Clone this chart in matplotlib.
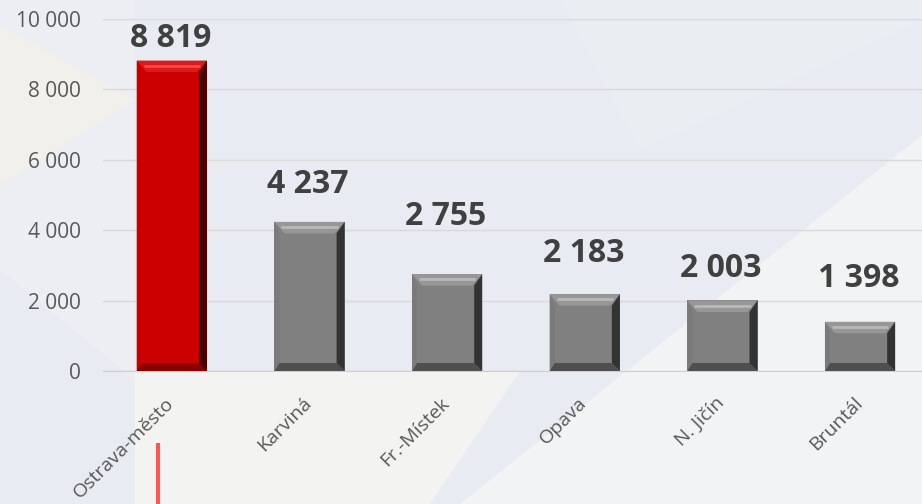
import matplotlib
matplotlib.use("Agg")
import matplotlib.pyplot as plt
from matplotlib.patches import Polygon
from matplotlib.ticker import FuncFormatter
from matplotlib.transforms import ScaledTranslation

plt.rcParams['font.family'] = ['Open Sans', 'DejaVu Sans']

# --- data ---
districts = ["Ostrava-město", "Karviná", "Fr.-Místek", "Opava", "N. Jičín", "Bruntál"]
values = [8819, 4237, 2755, 2183, 2003, 1398]
highlight = [True, False, False, False, False, False]

# labels were placed by hand in the original, gap above bar in points
label_gap = [10, 21, 35, 23, 17, 25]

W, H = 922, 504

def fmt(v, pos=None):
    return f"{v:,.0f}".replace(",", " ")

fig = plt.figure(figsize=(W / 100, H / 100), dpi=100)
fig.patch.set_facecolor('#e8ebf1')

# faint decorative background (pixel coords, top-left origin)
bg = fig.add_axes([0, 0, 1, 1], zorder=0)
bg.set_xlim(0, W)
bg.set_ylim(H, 0)
bg.axis('off')
shapes = [
    ([(0, 0), (135, 0), (135, 380), (0, 270)], '#eceef3'),
    ([(0, 25), (135, 100), (0, 185)], '#f1f0ea'),
    ([(135, 371), (135, 504), (430, 504), (520, 371)], '#f3f3f1'),
    ([(460, 504), (922, 504), (922, 135)], '#f2f3f4'),
    ([(560, 0), (922, 0), (922, 20), (640, 150)], '#eaedf2'),
]
for pts, c in shapes:
    bg.add_patch(Polygon(pts, closed=True, facecolor=c, edgecolor='none'))

# accent line at bottom
bg.plot([158, 158], [443, H], color='#f05a5a', lw=3, solid_capstyle='butt')

ax = fig.add_axes([103 / W, 1 - 371 / H, (W - 103) / W, 352 / H], zorder=1)
ax.patch.set_alpha(0)
x = list(range(len(districts)))
width = 0.51
colors = ['#cc0000' if h else '#808080' for h in highlight]
bars = ax.bar(x, values, width=width, color=colors, zorder=2)

ax.set_xlim(-0.5, 5.45)
ax.set_ylim(0, 10000)

# bevel effect, ~10 px deep
dx = 10 / 137.6
dy = 10 / 352 * 10000
for b, h in zip(bars, highlight):
    x0 = b.get_x()
    x1 = x0 + b.get_width()
    y1 = b.get_height()
    d = min(dy * 1.15, y1 / 3)
    db = dy * 0.8
    if h:
        top, bot, left, right, hi = '#dd1a1a', '#8a0000', '#c40000', '#4a0000', '#f24a4a'
    else:
        top, bot, left, right, hi = '#979797', '#4f4f4f', '#7a7a7a', '#333333', '#b8b8b8'
    ax.add_patch(Polygon([(x0, y1), (x1, y1), (x1 - dx, y1 - d), (x0 + dx, y1 - d)],
                         facecolor=top, edgecolor='none', zorder=3))
    ax.add_patch(Polygon([(x0, 0), (x1, 0), (x1 - dx * 0.8, db), (x0 + dx * 0.5, db)],
                         facecolor=bot, edgecolor='none', zorder=3))
    ax.add_patch(Polygon([(x0, 0), (x0 + dx * 0.5, db), (x0 + dx * 0.5, y1 - d), (x0, y1)],
                         facecolor=left, edgecolor='none', zorder=3))
    ax.add_patch(Polygon([(x1, 0), (x1 - dx * 0.8, db), (x1 - dx * 0.8, y1 - d), (x1, y1)],
                         facecolor=right, edgecolor='none', zorder=3))
    ax.plot([x0 + dx * 0.7, x1 - dx * 0.7], [y1 - d * 0.45, y1 - d * 0.45],
            color=hi, lw=2, zorder=4, solid_capstyle='butt')

for xi, v, g in zip(x, values, label_gap):
    ax.annotate(fmt(v), (xi, v), xytext=(-1, g), textcoords='offset points',
                ha='center', va='baseline', fontsize=23, fontweight='bold',
                color='#404040', zorder=5)

ax.yaxis.set_major_formatter(FuncFormatter(fmt))
ax.set_yticks(range(0, 10001, 2000))
ax.grid(axis='y', color='#d9d9d9', lw=1, zorder=0)
ax.set_axisbelow(True)
ax.tick_params(axis='y', length=0, labelsize=15, labelcolor='#595959', pad=16)
ax.tick_params(axis='x', length=0, labelsize=14, labelcolor='#595959', pad=12)
ax.set_xticks(x)
ax.set_xticklabels(districts, rotation=45, ha='right', rotation_mode='anchor')
shift = ScaledTranslation(-5 / 72, -4.5 / 72, fig.dpi_scale_trans)
for lab in ax.get_xticklabels():
    lab.set_transform(lab.get_transform() + shift)
for s in ['top', 'right', 'left']:
    ax.spines[s].set_visible(False)
ax.spines['bottom'].set_color('#d0d0d0')

fig.savefig('out.png', dpi=100, facecolor=fig.get_facecolor())
